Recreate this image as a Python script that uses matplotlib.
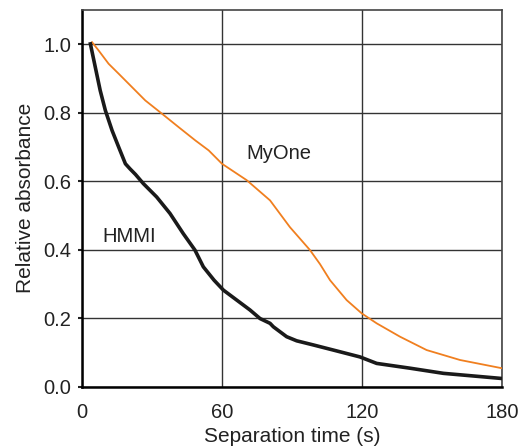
import matplotlib
matplotlib.use('Agg')
import matplotlib.pyplot as plt

plt.rcParams['font.family'] = ['Liberation Sans', 'DejaVu Sans']

# HMMI (black)
hmmi_t = [3.6, 5.7, 7.8, 10.0, 12.9, 15.7, 18.6, 20.6, 22.9, 26.3, 32.0, 37.7, 43.4,
          48.4, 52.0, 56.6, 60.6, 66.3, 72.0, 76.3, 80.6, 82.0, 87.7, 92.0, 99.1,
          107.7, 119.1, 126.3, 140.6, 154.9, 179.9]
hmmi_a = [1.001, 0.933, 0.865, 0.807, 0.748, 0.700, 0.651, 0.636, 0.620, 0.593, 0.554,
          0.506, 0.447, 0.399, 0.350, 0.311, 0.282, 0.253, 0.224, 0.199, 0.185, 0.175,
          0.146, 0.134, 0.122, 0.107, 0.087, 0.068, 0.054, 0.039, 0.024]

# MyOne (orange)
myone_t = [4.3, 7.1, 11.4, 15.7, 21.4, 27.1, 34.3, 41.4, 48.6, 54.3, 60.0, 70.6,
           80.6, 89.1, 97.7, 102.0, 106.3, 113.4, 119.9, 126.3, 136.3, 147.7, 162.0, 179.9]
myone_a = [1.006, 0.982, 0.943, 0.914, 0.875, 0.836, 0.797, 0.758, 0.719, 0.690, 0.651,
           0.603, 0.544, 0.466, 0.399, 0.358, 0.311, 0.253, 0.214, 0.185, 0.146, 0.107,
           0.078, 0.054]

x_ticks = [0, 60, 120, 180]
y_ticks = [0.0, 0.2, 0.4, 0.6, 0.8, 1.0]

fig = plt.figure(figsize=(5.2, 4.47), dpi=100)
ax = fig.add_axes([82 / 520, 1 - 386.7 / 447, 420 / 520, 376.7 / 447])

ax.plot(myone_t, myone_a, color='#f07f1f', lw=1.3, zorder=3)
ax.plot(hmmi_t, hmmi_a, color='#1a1a1a', lw=2.6, zorder=4)

ax.set_xlim(0, 180)
ax.set_ylim(0, 1.1)
ax.set_xticks(x_ticks)
ax.set_yticks(y_ticks)
ax.set_yticklabels([f'{v:.1f}' for v in y_ticks])
ax.grid(True, color='#333333', lw=1.0)
ax.set_axisbelow(True)

for side in ['top', 'right']:
    ax.spines[side].set_color('#444444')
    ax.spines[side].set_linewidth(1.2)
for side in ['left', 'bottom']:
    ax.spines[side].set_color('black')
    ax.spines[side].set_linewidth(1.8)

ax.tick_params(axis='y', length=3, width=1.5, labelsize=14.5, pad=5, colors='#222222')
ax.tick_params(axis='x', length=0, labelsize=14.5, pad=12, colors='#222222')

ax.set_xlabel('Separation time (s)', fontsize=15, color='#222222', labelpad=3)
ax.set_ylabel('Relative absorbance', fontsize=15, color='#222222', labelpad=6)

ax.text(70.3, 0.681, 'MyOne', fontsize=14.5, color='#222222', va='center', ha='left')
ax.text(8.6, 0.439, 'HMMI', fontsize=14.5, color='#222222', va='center', ha='left')

fig.savefig('out.png', dpi=100, facecolor='white')
